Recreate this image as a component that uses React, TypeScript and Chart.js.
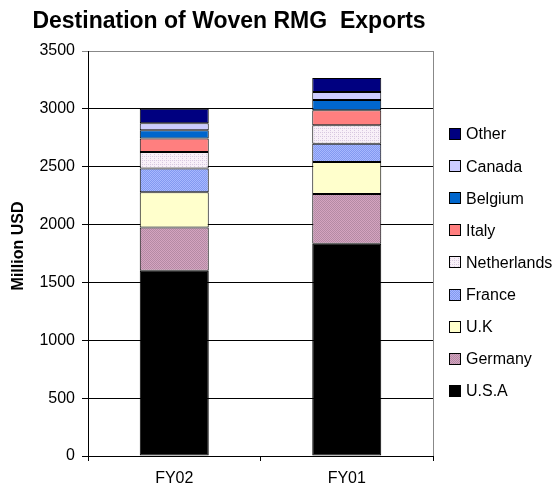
import { useEffect, useRef } from 'react';
import { Chart, registerables } from 'chart.js';
Chart.register(...registerables);

const categories = ['FY02', 'FY01'];
const seriesNames = ['U.S.A', 'Germany', 'U.K', 'France', 'Netherlands', 'Italy', 'Belgium', 'Canada', 'Other'];
const usa = [1600, 1835];
const germany = [374, 429];
const uk = [306, 277];
const france = [204, 158];
const netherlands = [144, 159];
const italy = [115, 130];
const belgium = [73, 89];
const canada = [60, 69];
const other = [125, 121];
const yMin = 0;
const yMax = 3500;
const yStep = 500;
const chartTitle = 'Destination of Woven RMG  Exports';
const yTitle = 'Million USD';

const FONT = '"Liberation Sans", Arial, sans-serif';

function makePattern(a: string, b: string, kind: string): CanvasPattern | string {
  const c = document.createElement('canvas');
  c.width = 4;
  c.height = 4;
  const ctx = c.getContext('2d');
  if (!ctx) return a;
  ctx.fillStyle = a;
  ctx.fillRect(0, 0, 4, 4);
  ctx.fillStyle = b;
  if (kind === 'check') {
    for (let y = 0; y < 4; y++) for (let x = 0; x < 4; x++) if ((x + y) % 2 === 0) ctx.fillRect(x, y, 1, 1);
  } else if (kind === 'dots') {
    ctx.fillRect(0, 0, 1, 1);
    ctx.fillRect(2, 2, 1, 1);
    ctx.fillRect(2, 0, 1, 1);
  } else {
    for (let i = 0; i < 4; i++) ctx.fillRect(i, (i + 1) % 4, 1, 1);
    for (let i = 0; i < 4; i++) ctx.fillRect(i, (i + 3) % 4, 1, 1);
  }
  const p = ctx.createPattern(c, 'repeat');
  return p || a;
}

const overlay = {
  id: 'overlay',
  afterDraw(chart: any) {
    const ctx = chart.ctx;
    const area = chart.chartArea;
    ctx.save();
    ctx.strokeStyle = '#888888';
    ctx.lineWidth = 1;
    ctx.beginPath();
    ctx.moveTo(Math.round(area.right) + 0.5, area.top);
    ctx.lineTo(Math.round(area.right) + 0.5, area.bottom);
    ctx.stroke();
    ctx.fillStyle = '#000';
    ctx.font = 'bold 23px ' + FONT;
    ctx.textAlign = 'center';
    ctx.textBaseline = 'alphabetic';
    ctx.fillText(chartTitle, 229, 28);
    ctx.save();
    ctx.translate(19, 246);
    ctx.rotate(-Math.PI / 2);
    ctx.font = 'bold 16px ' + FONT;
    ctx.textBaseline = 'middle';
    ctx.fillText(yTitle, 0, 0);
    ctx.restore();
    const ds = chart.data.datasets;
    ctx.font = '16px ' + FONT;
    ctx.textAlign = 'left';
    ctx.textBaseline = 'middle';
    for (let i = 0; i < ds.length; i++) {
      const d = ds[ds.length - 1 - i];
      const cy = 134 + i * 32.1;
      ctx.fillStyle = d.backgroundColor;
      ctx.fillRect(449, Math.round(cy - 6), 12, 12);
      ctx.strokeStyle = '#000';
      ctx.lineWidth = 1;
      ctx.strokeRect(449.5, Math.round(cy - 6) + 0.5, 11, 11);
      ctx.fillStyle = '#000';
      ctx.fillText(d.label, 466, cy + 1);
    }
    ctx.restore();
  },
};

export default function App() {
  const ref = useRef<HTMLCanvasElement | null>(null);
  useEffect(() => {
    if (!ref.current) return;
    const series = [usa, germany, uk, france, netherlands, italy, belgium, canada, other];
    const fills: any[] = [
      '#000000',
      makePattern('#d4a4c0', '#b48aa4', 'check'),
      '#ffffcc',
      makePattern('#a8b8ff', '#8299f0', 'hatch'),
      makePattern('#f8f0f8', '#d8c8e0', 'dots'),
      '#ff7f7f',
      '#0066cc',
      '#ccccff',
      '#000080',
    ];
    const chart = new Chart(ref.current, {
      type: 'bar',
      data: {
        labels: categories,
        datasets: series.map((v, i) => ({
          label: seriesNames[i],
          data: v,
          backgroundColor: fills[i],
          borderColor: '#000000',
          borderWidth: 1,
          borderSkipped: false,
          barPercentage: 0.4,
          categoryPercentage: 1.0,
        })),
      },
      options: {
        animation: false,
        responsive: false,
        maintainAspectRatio: false,
        layout: { padding: { top: 51, right: 121, left: 0, bottom: 0 } },
        plugins: { legend: { display: false }, title: { display: false }, tooltip: { enabled: false } },
        scales: {
          x: {
            stacked: true,
            grid: { drawOnChartArea: false, tickLength: 5, color: '#000', offset: true },
            border: { color: '#000' },
            ticks: { color: '#000', font: { family: FONT, size: 16 }, padding: 8 },
            afterFit: (s: any) => { s.height = 35; },
          },
          y: {
            stacked: true,
            min: yMin,
            max: yMax,
            grid: {
              color: (c: any) => (c.tick && c.tick.value === yMax ? '#888888' : '#000000'),
              tickLength: 6,
            },
            border: { color: '#000' },
            ticks: {
              stepSize: yStep,
              color: '#000',
              font: { family: FONT, size: 16 },
              padding: 7,
              callback: (v: any) => String(v),
            },
            afterFit: (s: any) => { s.width = 88; },
          },
        },
      },
      plugins: [overlay],
    });
    return () => chart.destroy();
  }, []);
  return (
    <div style={{ position: 'absolute', left: 0, top: 0, width: 554, height: 491, background: '#fff' }}>
      <canvas ref={ref} width={554} height={491} style={{ width: 554, height: 491, display: 'block' }} />
    </div>
  );
}
